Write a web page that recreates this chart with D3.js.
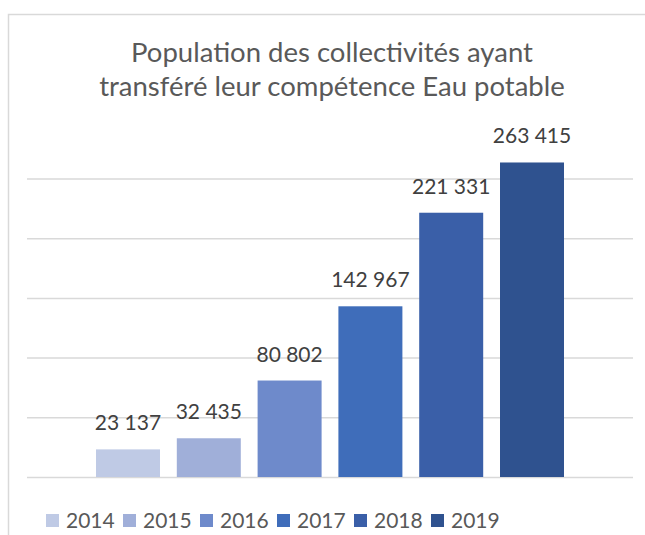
<!DOCTYPE html>
<html lang="fr">
  <head>
    <meta charset="UTF-8" />
    <title>Population des collectivités</title>
    <script src="https://cdn.jsdelivr.net/npm/d3@7"></script>
    <style>
      body { margin: 0; background: #fff; }
      text { font-family: Lato, Calibri, "Open Sans", sans-serif; }
    </style>
  </head>
  <body>
    <div id="wrapper"></div>
    <script>
      const years = ['2014', '2015', '2016', '2017', '2018', '2019']
      const population = [23137, 32435, 80802, 142967, 221331, 263415]
      const colors = ['#bfcae5', '#a0afd9', '#6e8acb', '#3f6dba', '#3a5fa8', '#2f528f']
      const yTicks = [0, 50000, 100000, 150000, 200000, 250000]
      const titleLines = ['Population des collectivités ayant', 'transféré leur compétence Eau potable']

      const dms = {
        width: 645,
        height: 535,
        plotLeft: 27,
        plotRight: 633,
        plotBottom: 477,
        plotTop: 178.5
      }

      const fmt = v => d3.format(',')(v).replace(/,/g, ' ')

      const svg = d3.select('#wrapper').append('svg')
        .attr('width', dms.width)
        .attr('height', dms.height)

      // chart frame (runs off the right/bottom edge like the source)
      svg.append('rect')
        .attr('x', 8.5).attr('y', 14.5)
        .attr('width', dms.width).attr('height', dms.height)
        .attr('fill', '#fff')
        .attr('stroke', '#d9d9d9')
        .attr('stroke-width', 1.5)

      svg.append('text')
        .attr('x', 332)
        .attr('fill', '#595959')
        .attr('font-size', 27.5)
        .attr('text-anchor', 'middle')
        .selectAll('tspan')
        .data(titleLines)
        .join('tspan')
        .attr('x', 332)
        .attr('y', (d, i) => 61.5 + i * 34)
        .text(d => d)

      const yScale = d3.scaleLinear()
        .domain([0, 250000])
        .range([dms.plotBottom, dms.plotTop])

      const xScale = d3.scaleBand()
        .domain(years)
        .range([dms.plotLeft, dms.plotRight])
        .paddingInner(0.208)
        .paddingOuter(0.854)

      const grid = d3.axisLeft(yScale)
        .tickValues(yTicks)
        .tickSize(-(dms.plotRight - dms.plotLeft))
        .tickFormat('')
      svg.append('g')
        .attr('transform', `translate(${dms.plotLeft},0)`)
        .call(grid)
        .call(g => g.select('.domain').remove())
        .call(g => g.selectAll('line').attr('stroke', '#d9d9d9').attr('stroke-width', 1.5))

      const data = years.map((y, i) => ({ year: y, value: population[i], color: colors[i] }))

      svg.append('g')
        .selectAll('rect')
        .data(data)
        .join('rect')
        .attr('x', d => xScale(d.year))
        .attr('y', d => yScale(d.value))
        .attr('width', xScale.bandwidth())
        .attr('height', d => yScale(0) - yScale(d.value))
        .attr('fill', d => d.color)

      svg.append('g')
        .selectAll('text')
        .data(data)
        .join('text')
        .attr('x', d => xScale(d.year) + xScale.bandwidth() / 2)
        .attr('y', d => yScale(d.value) - 19)
        .attr('text-anchor', 'middle')
        .attr('font-size', 21)
        .attr('fill', '#404040')
        .text(d => fmt(d.value))

      // legend
      const legend = svg.append('g').attr('transform', 'translate(46,514)')
      const item = legend.selectAll('g')
        .data(data)
        .join('g')
        .attr('transform', (d, i) => `translate(${i * 77},0)`)
      item.append('rect')
        .attr('width', 13).attr('height', 13)
        .attr('fill', d => d.color)
      item.append('text')
        .attr('x', 20).attr('y', 14)
        .attr('font-size', 21)
        .attr('fill', '#595959')
        .text(d => d.year)
    </script>
  </body>
</html>
